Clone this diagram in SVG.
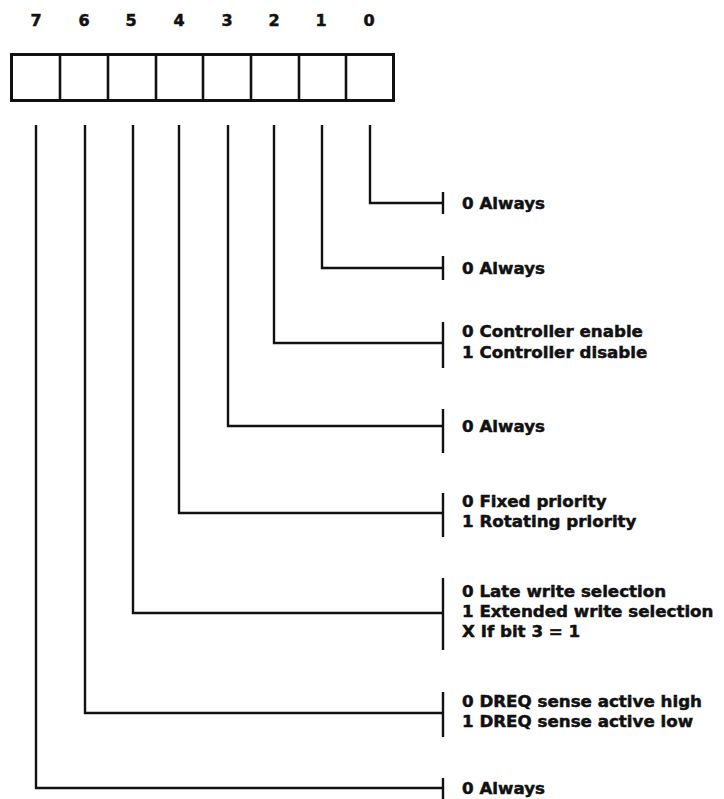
<svg xmlns="http://www.w3.org/2000/svg" width="724" height="799" viewBox="0 0 724 799">
<style>
text{font-family:"DejaVu Sans","Liberation Sans",sans-serif;font-weight:bold;fill:#111;stroke:#111;stroke-width:0.5}
.bit{font-size:16px;text-anchor:middle}
.lbl{font-size:16.7px}
.ln{fill:none;stroke:#111;stroke-width:2.4;stroke-linejoin:miter;stroke-linecap:butt}
.box{fill:#fff;stroke:#111;stroke-width:3}
.div{stroke:#111;stroke-width:2.6}
</style>
<rect width="724" height="799" fill="#fff"/>
<g id="register">
<rect class="box" x="11.5" y="54.5" width="382" height="46"/>
<line class="div" x1="60" y1="55" x2="60" y2="100"/>
<line class="div" x1="108" y1="55" x2="108" y2="100"/>
<line class="div" x1="156" y1="55" x2="156" y2="100"/>
<line class="div" x1="203" y1="55" x2="203" y2="100"/>
<line class="div" x1="251" y1="55" x2="251" y2="100"/>
<line class="div" x1="299" y1="55" x2="299" y2="100"/>
<line class="div" x1="346" y1="55" x2="346" y2="100"/>
<text class="bit" x="36" y="26">7</text>
<text class="bit" x="84" y="26">6</text>
<text class="bit" x="131" y="26">5</text>
<text class="bit" x="179" y="26">4</text>
<text class="bit" x="227" y="26">3</text>
<text class="bit" x="274" y="26">2</text>
<text class="bit" x="321" y="26">1</text>
<text class="bit" x="369" y="26">0</text>
</g>
<g id="connectors">
<polyline class="ln" points="370,125 370,203 443,203"/>
<line class="ln" x1="443" y1="192" x2="443" y2="214"/>
<polyline class="ln" points="322,125 322,268 443,268"/>
<line class="ln" x1="443" y1="256" x2="443" y2="280"/>
<polyline class="ln" points="274,125 274,343 443,343"/>
<line class="ln" x1="443" y1="322" x2="443" y2="368"/>
<polyline class="ln" points="228,125 228,426 443,426"/>
<line class="ln" x1="443" y1="409" x2="443" y2="453"/>
<polyline class="ln" points="179,125 179,513 443,513"/>
<line class="ln" x1="443" y1="493" x2="443" y2="537"/>
<polyline class="ln" points="133,125 133,613 443,613"/>
<line class="ln" x1="443" y1="578" x2="443" y2="650"/>
<polyline class="ln" points="85,125 85,713 443,713"/>
<line class="ln" x1="443" y1="692" x2="443" y2="737"/>
<polyline class="ln" points="36,125 36,788 443,788"/>
<line class="ln" x1="443" y1="778" x2="443" y2="799"/>
</g>
<g id="bit0"><text class="lbl" x="462" y="209">0 Always</text></g>
<g id="bit1"><text class="lbl" x="462" y="274">0 Always</text></g>
<g id="bit2"><text class="lbl" x="462" y="337">0 Controller enable</text><text class="lbl" x="462" y="358">1 Controller disable</text></g>
<g id="bit3"><text class="lbl" x="462" y="432">0 Always</text></g>
<g id="bit4"><text class="lbl" x="462" y="507">0 Fixed priority</text><text class="lbl" x="462" y="527">1 Rotating priority</text></g>
<g id="bit5"><text class="lbl" x="462" y="597">0 Late write selection</text><text class="lbl" x="462" y="617">1 Extended write selection</text><text class="lbl" x="462" y="637">X If bit 3 = 1</text></g>
<g id="bit6"><text class="lbl" x="462" y="707">0 DREQ sense active high</text><text class="lbl" x="462" y="727">1 DREQ sense active low</text></g>
<g id="bit7"><text class="lbl" x="462" y="794">0 Always</text></g>
</svg>
